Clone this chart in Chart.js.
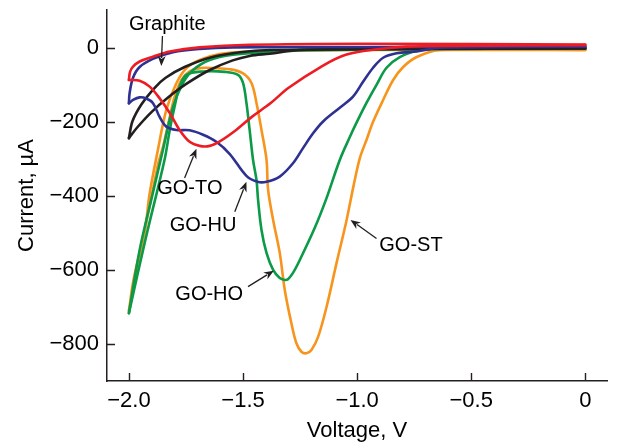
<!DOCTYPE html>
<html>
<head>
<meta charset="utf-8">
<script src="https://cdn.jsdelivr.net/npm/chart.js@4.4.1/dist/chart.umd.min.js"></script>
<style>
  html, body { margin: 0; padding: 0; background: #fff; }
  #wrap { width: 618px; height: 448px; }
</style>
</head>
<body>
<div id="wrap"><canvas id="cvChart"></canvas></div>
<script>
// voltage (V) and current (uA), forward scan (0 -> -2 V) and reverse scan (-2 -> 0 V)
const goToFwdV = [0, -0.59, -0.78, -0.91, -1.05, -1.16, -1.30, -1.38, -1.46, -1.53, -1.60, -1.646, -1.69, -1.734, -1.778, -1.821, -1.866, -1.909, -1.953, -2.0];
const goToFwdI = [8, 6, 4, -3, -18, -51, -107, -149, -185, -221, -251, -264, -264, -253, -221, -175, -135, -104, -88, -86];
const goToRevV = [-2.0, -1.995, -1.982, -1.953, -1.895, -1.821, -1.69, -1.471, -0.988, 0];
const goToRevI = [-86, -64, -50, -36, -23, -9, 2, 9, 12, 10];

const goHuFwdV = [0, -0.637, -0.739, -0.827, -0.886, -0.93, -0.974, -1.018, -1.076, -1.149, -1.193, -1.237, -1.281, -1.339, -1.397, -1.436, -1.485, -1.558, -1.617, -1.675, -1.734, -1.792, -1.836, -1.866, -1.895, -1.924, -1.953, -1.982, -2.0];
const goHuFwdI = [4, 1, -9, -14, -26, -53, -91, -131, -161, -198, -230, -270, -311, -347, -361, -361, -345, -286, -253, -234, -222, -221, -212, -185, -148, -136, -133, -140, -149];
const goHuRevV = [-2.0, -1.997, -1.982, -1.953, -1.895, -1.807, -1.69, -1.544, -0.988, 0];
const goHuRevI = [-149, -122, -80, -51, -29, -11, -2, 2, 3, 4];

const graphiteFwdV = [0, -0.81, -1.25, -1.383, -1.471, -1.545, -1.646, -1.747, -1.83, -1.9, -1.962, -2.0];
const graphiteFwdI = [0, -2, -5, -15, -21, -33, -59, -96, -134, -172, -213, -243];
const graphiteRevV = [-2.0, -1.984, -1.944, -1.887, -1.839, -1.756, -1.642, -1.514, -1.383, -0.81, 0];
const graphiteRevI = [-243, -197, -151, -107, -80, -51, -25, -11, -5, -2, -1];

const goHoFwdV = [0, -0.637, -0.725, -0.813, -0.871, -0.915, -0.959, -1.003, -1.032, -1.076, -1.134, -1.186, -1.251, -1.281, -1.303, -1.317, -1.339, -1.368, -1.397, -1.419, -1.434, -1.441, -1.456, -1.471, -1.485, -1.5, -1.522, -1.58, -1.675, -1.748, -1.778, -1.8, -1.821, -1.844, -1.928, -2.0];
const goHoFwdI = [0, -1, -5, -24, -53, -99, -148, -202, -240, -302, -405, -486, -572, -607, -624, -626, -621, -599, -553, -491, -410, -356, -302, -221, -148, -94, -72, -64, -63, -72, -104, -158, -221, -302, -518, -716];
const goHoRevV = [-2.0, -1.953, -1.895, -1.851, -1.807, -1.763, -1.719, -1.646, -1.544, -1.397, -1.251, -0.813, 0];
const goHoRevI = [-716, -545, -391, -275, -159, -94, -59, -32, -18, -11, -6, -3, -1];

const goStFwdV = [0, -0.637, -0.739, -0.798, -0.842, -0.886, -0.93, -0.959, -0.988, -1.015, -1.046, -1.09, -1.134, -1.171, -1.2, -1.222, -1.244, -1.266, -1.288, -1.317, -1.339, -1.368, -1.39, -1.397, -1.419, -1.441, -1.463, -1.5, -1.558, -1.624, -1.69, -1.734, -1.77, -1.8, -1.821, -1.851, -1.873, -2.0];
const goStFwdI = [-5, -5, -24, -51, -86, -140, -199, -248, -297, -370, -464, -580, -699, -780, -815, -824, -820, -797, -743, -653, -553, -464, -383, -302, -221, -148, -94, -68, -57, -54, -54, -63, -86, -132, -186, -267, -315, -710];
const goStRevV = [-2.0, -1.98, -1.93, -1.909, -1.873, -1.836, -1.792, -1.748, -1.69, -1.602, -1.471, -1.251, -0.813, 0];
const goStRevI = [-710, -626, -491, -392, -275, -167, -95, -54, -32, -16, -9, -6, -5, -5];

const xTicks = [-2, -1.5, -1, -0.5, 0];
const xTickLabels = ['\u22122.0', '\u22121.5', '\u22121.0', '\u22120.5', '0'];
const yTicks = [0, -200, -400, -600, -800];
const yTickLabels = ['0', '\u2212200', '\u2212400', '\u2212600', '\u2212800'];

// curve labels with arrows, in data units (text centre, arrow tail, arrow head)
const curveNotes = [
  { text: 'Graphite', tx: -1.832, ty: 63, x1: -1.853, y1: 33, x2: -1.858, y2: -48 },
  { text: 'GO-TO', tx: -1.733, ty: -378, x1: -1.756, y1: -351, x2: -1.704, y2: -272 },
  { text: 'GO-HU', tx: -1.675, ty: -480, x1: -1.536, y1: -442, x2: -1.485, y2: -361 },
  { text: 'GO-HO', tx: -1.648, ty: -664, x1: -1.478, y1: -644, x2: -1.365, y2: -601 },
  { text: 'GO-ST', tx: -0.764, ty: -532, x1: -0.915, y1: -514, x2: -1.029, y2: -464 }
];

const ink = '#231f20';
const fontFam = '"Liberation Sans", Arial, sans-serif';

function pts(vs, is) {
  return vs.map((v, k) => ({ x: v, y: is[k] }));
}

function curve(vs, is, color) {
  return {
    data: pts(vs, is),
    borderColor: color,
    borderWidth: 2.6,
    borderCapStyle: 'round',
    borderJoinStyle: 'round',
    showLine: true,
    fill: false,
    pointRadius: 0,
    tension: 0.35
  };
}

const red = '#ed1c24', blue = '#2e3192', green = '#0b9a48', orange = '#f7941d';

const notesPlugin = {
  id: 'notes',
  afterDraw(chart) {
    const ctx = chart.ctx;
    const xs = chart.scales.x, ys = chart.scales.y;
    const area = chart.chartArea;
    ctx.save();
    // inward tick marks
    ctx.strokeStyle = ink;
    ctx.lineWidth = 1.4;
    ctx.beginPath();
    xTicks.forEach(v => {
      const px = Math.round(xs.getPixelForValue(v)) + 0.5;
      ctx.moveTo(px, area.bottom);
      ctx.lineTo(px, area.bottom - 8);
    });
    yTicks.forEach(v => {
      const py = Math.round(ys.getPixelForValue(v)) + 0.5;
      ctx.moveTo(area.left, py);
      ctx.lineTo(area.left + 8, py);
    });
    ctx.stroke();

    // labels and arrows
    ctx.font = '20px ' + fontFam;
    ctx.fillStyle = '#000';
    ctx.textAlign = 'center';
    ctx.textBaseline = 'middle';
    curveNotes.forEach(n => {
      ctx.fillText(n.text, xs.getPixelForValue(n.tx), ys.getPixelForValue(n.ty));
      const ax = xs.getPixelForValue(n.x1), ay = ys.getPixelForValue(n.y1);
      const bx = xs.getPixelForValue(n.x2), by = ys.getPixelForValue(n.y2);
      const ang = Math.atan2(by - ay, bx - ax);
      const head = 10, half = 4;
      ctx.strokeStyle = ink;
      ctx.lineWidth = 1.3;
      ctx.beginPath();
      ctx.moveTo(ax, ay);
      ctx.lineTo(bx - Math.cos(ang) * head * 0.8, by - Math.sin(ang) * head * 0.8);
      ctx.stroke();
      ctx.fillStyle = ink;
      ctx.beginPath();
      ctx.moveTo(bx, by);
      ctx.lineTo(bx - Math.cos(ang) * head - Math.sin(ang) * half, by - Math.sin(ang) * head + Math.cos(ang) * half);
      ctx.lineTo(bx - Math.cos(ang) * head * 0.7, by - Math.sin(ang) * head * 0.7);
      ctx.lineTo(bx - Math.cos(ang) * head + Math.sin(ang) * half, by - Math.sin(ang) * head - Math.cos(ang) * half);
      ctx.closePath();
      ctx.fill();
      ctx.fillStyle = '#000';
    });
    ctx.restore();
  }
};

const ctx = document.getElementById('cvChart').getContext('2d');
new Chart(ctx, {
  type: 'scatter',
  data: {
    datasets: [
      curve(goToFwdV, goToFwdI, red),
      curve(goToRevV, goToRevI, red),
      curve(goHuFwdV, goHuFwdI, blue),
      curve(goHuRevV, goHuRevI, blue),
      curve(graphiteFwdV, graphiteFwdI, ink),
      curve(graphiteRevV, graphiteRevI, ink),
      curve(goHoFwdV, goHoFwdI, green),
      curve(goHoRevV, goHoRevI, green),
      curve(goStFwdV, goStFwdI, orange),
      curve(goStRevV, goStRevI, orange)
    ]
  },
  options: {
    responsive: true,
    maintainAspectRatio: false,
    animation: false,
    devicePixelRatio: 1,
    layout: { padding: { top: 10, right: 11, left: 0, bottom: 0 } },
    plugins: {
      legend: { display: false },
      tooltip: { enabled: false }
    },
    scales: {
      x: {
        type: 'linear',
        min: -2.096,
        max: 0.095,
        afterBuildTicks: s => { s.ticks = xTicks.map(v => ({ value: v })); },
        afterFit: s => { s.height = 67; s.paddingLeft = 0; s.paddingRight = 0; },
        grid: { display: false, drawTicks: false },
        border: { display: true, color: ink, width: 1.5 },
        ticks: {
          padding: 7,
          color: '#000',
          maxRotation: 0,
          font: { family: fontFam, size: 22 },
          callback: v => xTickLabels[xTicks.indexOf(v)]
        },
        title: {
          display: true,
          text: 'Voltage, V',
          color: '#000',
          font: { family: fontFam, size: 22 },
          padding: { top: 0, bottom: 4 }
        }
      },
      y: {
        type: 'linear',
        min: -899,
        max: 103,
        afterBuildTicks: s => { s.ticks = yTicks.map(v => ({ value: v })); },
        afterFit: s => { s.width = 107; s.paddingTop = 0; s.paddingBottom = 0; },
        grid: { display: false, drawTicks: false },
        border: { display: true, color: ink, width: 1.5 },
        ticks: {
          padding: 8,
          color: '#000',
          font: { family: fontFam, size: 22 },
          callback: v => yTickLabels[yTicks.indexOf(v)]
        },
        title: {
          display: true,
          text: 'Current, \u00b5A',
          color: '#000',
          font: { family: fontFam, size: 22 },
          padding: { top: 14, bottom: 0 }
        }
      }
    }
  },
  plugins: [notesPlugin]
});
</script>
</body>
</html>
